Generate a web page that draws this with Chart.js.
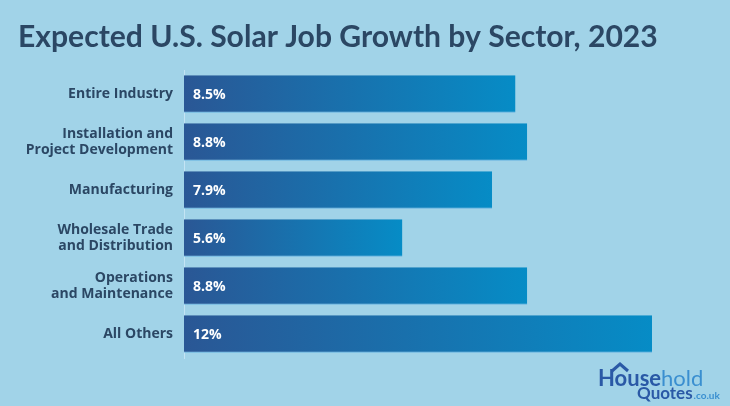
<!DOCTYPE html>
<html>
<head>
<meta charset="utf-8">
<script src="https://cdn.jsdelivr.net/npm/chart.js@4/dist/chart.umd.min.js"></script>
<style>
  html, body { margin: 0; padding: 0; background: #a1d3e8; }
  #wrap { width: 730px; height: 406px; position: relative; }
</style>
</head>
<body>
<div id="wrap"><canvas id="chart" width="730" height="406"></canvas></div>
<script>
// Data
const sectors = [
  ['Entire Industry'],
  ['Installation and', 'Project Development'],
  ['Manufacturing'],
  ['Wholesale Trade', 'and Distribution'],
  ['Operations', 'and Maintenance'],
  ['All Others']
];
const growth = [8.5, 8.8, 7.9, 5.6, 8.8, 12];
const titleText = 'Expected U.S. Solar Job Growth by Sector, 2023';

const navy = '#2b4764';
const titleFont = 'Lato, "Open Sans", sans-serif';
const labelFont = '"Open Sans", Lato, sans-serif';

// per-bar gradient, dark on the left to lighter blue at the end
function barGradient(context) {
  const chart = context.chart;
  const x = chart.scales.x;
  if (!chart.chartArea || !x) return '#1d6aa8';
  const v = context.raw;
  const x0 = x.getPixelForValue(0);
  const x1 = x.getPixelForValue(v);
  const g = chart.ctx.createLinearGradient(x0, 0, x1, 0);
  g.addColorStop(0, '#2a5795');
  g.addColorStop(1, '#068cc6');
  return g;
}

// title, value labels and logo
const extras = {
  id: 'extras',
  afterDatasetsDraw(chart) {
    const ctx = chart.ctx;
    ctx.save();
    // title, sized to span the same width as the original
    ctx.fillStyle = navy;
    ctx.font = 'bold 28px ' + titleFont;
    const tw = ctx.measureText(titleText).width;
    const size = Math.min(31, 28 * 640 / tw);
    ctx.font = 'bold ' + size.toFixed(1) + 'px ' + titleFont;
    ctx.textBaseline = 'alphabetic';
    ctx.textAlign = 'left';
    ctx.fillText(titleText, 18, 47);

    // value labels
    const meta = chart.getDatasetMeta(0);
    ctx.fillStyle = '#ffffff';
    ctx.font = 'bold 14px ' + labelFont;
    ctx.textBaseline = 'middle';
    meta.data.forEach((bar, i) => {
      ctx.fillText(growth[i] + '%', bar.base + 9, bar.y + 1);
    });

    // logo
    ctx.textBaseline = 'alphabetic';
    ctx.fillStyle = '#2a59a6';
    ctx.font = 'bold 22px ' + titleFont;
    ctx.fillText('House', 598, 386);
    const wHouse = ctx.measureText('House').width;
    ctx.fillStyle = '#3a8fd0';
    ctx.font = '22px ' + titleFont;
    ctx.fillText('hold', 598 + wHouse, 386);
    ctx.fillStyle = '#2a59a6';
    ctx.font = 'bold 17px ' + titleFont;
    ctx.fillText('Quotes', 637, 399);
    const wQ = ctx.measureText('Quotes').width;
    ctx.fillStyle = '#3a8fd0';
    ctx.font = 'bold 10px ' + titleFont;
    ctx.fillText('.co.uk', 637 + wQ + 1, 399);
    // roof over the "o"
    ctx.strokeStyle = '#2a59a6';
    ctx.lineWidth = 3;
    ctx.beginPath();
    ctx.moveTo(612, 371);
    ctx.lineTo(620, 364);
    ctx.lineTo(628, 371);
    ctx.stroke();
    ctx.restore();
  }
};

new Chart(document.getElementById('chart'), {
  type: 'bar',
  data: {
    labels: sectors,
    datasets: [{
      data: growth,
      backgroundColor: barGradient,
      borderColor: 'rgba(90, 170, 225, 0.8)',
      borderWidth: { bottom: 1, top: 0, left: 0, right: 0 },
      borderSkipped: false,
      barPercentage: 1,
      categoryPercentage: 0.78
    }]
  },
  options: {
    indexAxis: 'y',
    responsive: false,
    animation: false,
    layout: { padding: { left: 0, top: 70, right: 39, bottom: 48 } },
    plugins: {
      legend: { display: false },
      tooltip: { enabled: false }
    },
    scales: {
      x: {
        display: false,
        min: 0,
        max: 13
      },
      y: {
        grid: { display: false, drawTicks: false },
        border: { display: true, color: 'rgba(200, 230, 245, 0.9)', width: 1 },
        ticks: {
          color: navy,
          padding: 11,
          font: { family: labelFont, size: 14, weight: 'bold', lineHeight: 1.2 }
        },
        afterFit(scale) { scale.width = 184; }
      }
    }
  },
  plugins: [extras]
});
</script>
</body>
</html>
